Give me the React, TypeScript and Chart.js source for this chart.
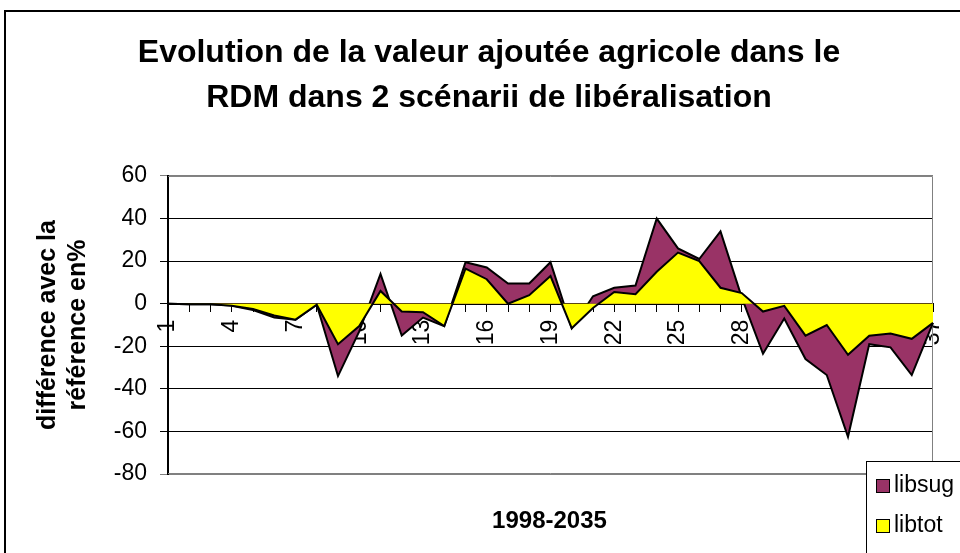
import { useEffect, useRef } from 'react';
import { Chart, registerables } from 'chart.js';

Chart.register(...registerables);

const categories = ['1', '2', '3', '4', '5', '6', '7', '8', '9', '10', '11', '12', '13', '14', '15', '16', '17', '18', '19', '20', '21', '22', '23', '24', '25', '26', '27', '28', '29', '30', '31', '32', '33', '34', '35', '36', '37'];
const libsug = [0, -0.2, -0.3, -1, -3, -6.5, -7.5, -0.5, -34, -13, 14, -15, -6.5, -10.5, 19.5, 17, 9.5, 9.5, 19.5, -11.5, 3.5, 7.5, 8.5, 40, 26, 21, 34, 3, -23.5, -7, -26, -33.5, -62.5, -19, -20.5, -33.5, -9];
const libtot = [0, -0.2, -0.3, -0.9, -2.5, -5.5, -7.5, -0.5, -19, -10.5, 6, -3.7, -4, -10.5, 16.5, 11.5, 0, 4, 13, -11.5, -2, 5.5, 4.5, 15, 24, 20, 7.5, 5, -3.7, -1, -15, -10, -24, -15, -14, -16.5, -9];
const seriesNames = ['libsug', 'libtot'];
const seriesColors = ['#993366', '#FFFF00'];
const yMin = -80;
const yMax = 60;
const yStep = 20;
const titleLines = ['Evolution de la valeur ajoutée agricole dans le', 'RDM dans 2 scénarii de libéralisation'];
const yTitleLines = ['différence avec la', 'référence en%'];
const xTitle = '1998-2035';

const FONT = 'Arial, "Liberation Sans", sans-serif';

const framePlugin = {
  id: 'frame',
  beforeDraw(chart: any) {
    const ctx = chart.ctx;
    ctx.save();
    ctx.fillStyle = '#ffffff';
    ctx.fillRect(0, 0, chart.width, chart.height);
    ctx.strokeStyle = '#000000';
    ctx.lineWidth = 2;
    ctx.strokeRect(5, 11, chart.width + 40, chart.height + 40);
    ctx.restore();
  },
  beforeDatasetsDraw(chart: any) {
    const { left, top, right, bottom } = chart.chartArea;
    const ctx = chart.ctx;
    ctx.save();
    ctx.strokeStyle = '#808080';
    ctx.lineWidth = 1;
    ctx.beginPath();
    ctx.moveTo(left, top + 0.5);
    ctx.lineTo(right - 0.5, top + 0.5);
    ctx.lineTo(right - 0.5, bottom - 0.5);
    ctx.lineTo(left, bottom - 0.5);
    ctx.stroke();
    ctx.restore();
  },
  afterDraw(chart: any) {
    const ctx = chart.ctx;
    const { left, right, bottom } = chart.chartArea;
    ctx.save();
    // x axis title
    ctx.fillStyle = '#000000';
    ctx.font = `bold 24px ${FONT}`;
    ctx.textAlign = 'center';
    ctx.textBaseline = 'middle';
    ctx.fillText(xTitle, (left + right) / 2 - 1, bottom + 47);
    // legend
    const bx = right - 67;
    const by = bottom - 13;
    ctx.fillStyle = '#ffffff';
    ctx.fillRect(bx, by, 160, 120);
    ctx.strokeStyle = '#000000';
    ctx.lineWidth = 1;
    ctx.strokeRect(bx + 0.5, by + 0.5, 160, 120);
    ctx.font = `23px ${FONT}`;
    ctx.textAlign = 'left';
    seriesNames.forEach((name, i) => {
      const sy = by + 18 + i * 40;
      ctx.fillStyle = seriesColors[i];
      ctx.fillRect(bx + 10, sy, 13, 13);
      ctx.strokeStyle = '#000000';
      ctx.strokeRect(bx + 10.5, sy + 0.5, 13, 13);
      ctx.fillStyle = '#000000';
      ctx.fillText(name, bx + 28, sy + 7);
    });
    ctx.restore();
  },
};

export default function App() {
  const ref = useRef<HTMLCanvasElement>(null);

  useEffect(() => {
    if (!ref.current) return;
    Chart.defaults.font.family = FONT;
    const chart = new Chart(ref.current, {
      type: 'line',
      data: {
        labels: categories,
        datasets: [
          {
            label: seriesNames[0],
            data: libsug,
            backgroundColor: seriesColors[0],
            borderColor: '#000000',
            borderWidth: 2,
            fill: 'origin',
            pointRadius: 0,
            tension: 0,
            order: 1,
          },
          {
            label: seriesNames[1],
            data: libtot,
            backgroundColor: seriesColors[1],
            borderColor: '#000000',
            borderWidth: 2,
            fill: 'origin',
            pointRadius: 0,
            tension: 0,
            order: 0,
          },
        ],
      },
      options: {
        animation: false,
        responsive: false,
        layout: { padding: { left: 0, right: 0, top: 0, bottom: 79 } },
        plugins: {
          legend: { display: false },
          tooltip: { enabled: false },
          title: {
            display: true,
            text: titleLines,
            color: '#000000',
            font: { size: 32, weight: 'bold', lineHeight: 1.406, family: FONT },
            padding: { top: 31, bottom: 55 },
          },
        },
        scales: {
          x: {
            type: 'category',
            position: { y: 0 } as any,
            offset: false,
            z: 1,
            grid: { drawOnChartArea: false, drawTicks: true, tickLength: 7, color: '#000000', lineWidth: 1 },
            border: { color: '#000000', width: 2 },
            ticks: {
              autoSkip: false,
              maxRotation: 90,
              minRotation: 90,
              padding: 9,
              color: '#000000',
              font: { size: 23, family: FONT },
              callback: (_v: any, i: number) => (i % 3 === 0 ? categories[i] : ''),
            },
          },
          y: {
            min: yMin,
            max: yMax,
            afterFit: (scale: any) => {
              scale.width = 168;
            },
            ticks: { stepSize: yStep, padding: 13, color: '#000000', font: { size: 23, family: FONT } },
            grid: {
              tickLength: 8,
              lineWidth: 1,
              color: (c: any) => (c.tick && (c.tick.value === yMax || c.tick.value === yMin) ? '#808080' : '#000000'),
            },
            border: { color: '#000000', width: 2 },
            title: {
              display: true,
              text: yTitleLines,
              color: '#000000',
              font: { size: 25, weight: 'bold', lineHeight: 1.2, family: FONT },
              padding: { top: 33, bottom: 0 },
            },
          },
          yRight: {
            position: 'right',
            display: true,
            min: yMin,
            max: yMax,
            grid: { display: false, drawTicks: false },
            ticks: { display: false },
            border: { display: false },
            afterFit: (scale: any) => {
              scale.width = 45;
            },
          },
        },
      },
      plugins: [framePlugin],
    });
    return () => chart.destroy();
  }, []);

  return (
    <div style={{ position: 'fixed', left: 0, top: 0, width: 960, height: 553, overflow: 'hidden', background: '#ffffff' }}>
      <canvas ref={ref} width={978} height={553} style={{ display: 'block', width: 978, height: 553 }} />
    </div>
  );
}
